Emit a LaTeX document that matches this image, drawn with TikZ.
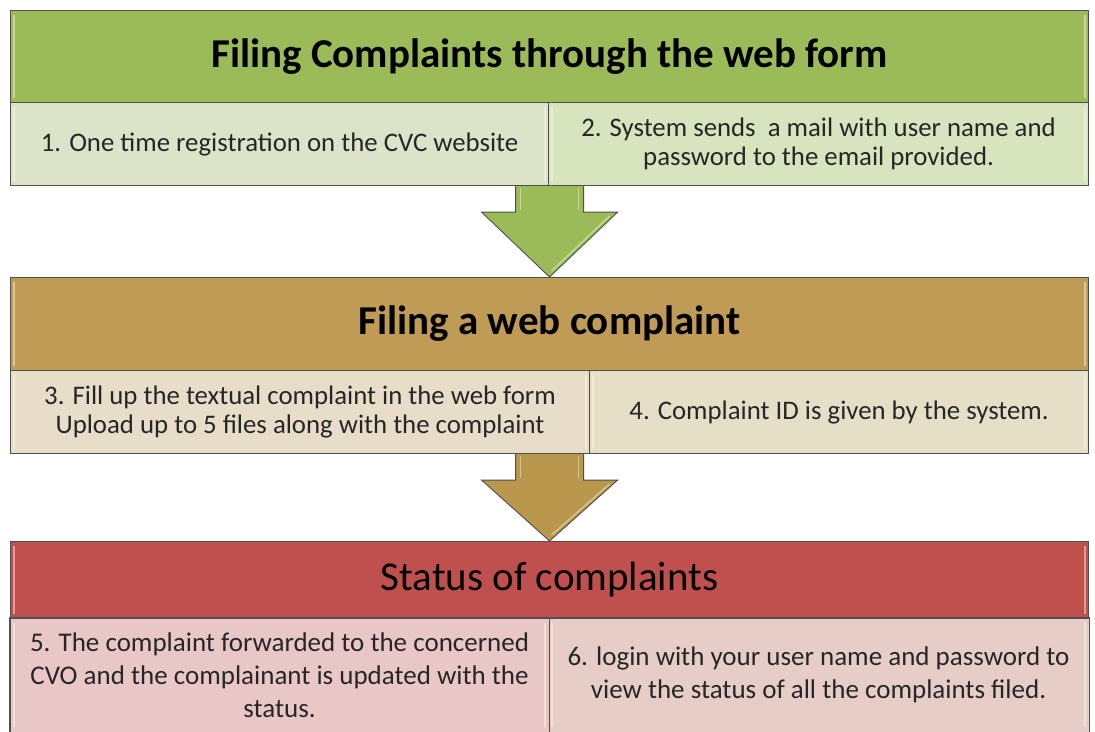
\documentclass[tikz,border=0pt]{standalone}
\usepackage{fontspec}
\setmainfont{Carlito}
\usetikzlibrary{calc}
\definecolor{bordergray}{HTML}{4F4F4F}
\definecolor{textdark}{HTML}{262626}
\definecolor{hgreen}{HTML}{9BBB59}
\definecolor{cgreenA}{HTML}{DDE3C8}
\definecolor{cgreenB}{HTML}{D8E4BE}
\definecolor{hgold}{HTML}{BF9B55}
\definecolor{cgoldA}{HTML}{E7DDC9}
\definecolor{cgoldB}{HTML}{E6DFC7}
\definecolor{agold}{HTML}{B9974C}
\definecolor{hred}{HTML}{C0504D}
\definecolor{credA}{HTML}{E9C7C6}
\definecolor{credB}{HTML}{E7CDC7}
\definecolor{hilite}{HTML}{FFFFE0}
\begin{document}
\begin{tikzpicture}[x=1pt,y=-1pt,
  box/.style={draw=bordergray, line width=1.1pt, inner sep=0pt, anchor=north west, align=center},
  hdr/.style={box, text=black, font=\fontsize{41}{49}\selectfont\bfseries},
  hdrreg/.style={box, text=black, font=\fontsize{41}{49}\selectfont},
  cell/.style={box, text=textdark, font=\fontsize{26.8}{29}\selectfont},
  cellbig/.style={box, draw=none, text=textdark, font=\fontsize{27}{33}\selectfont},
  arrowshape/.style={draw=bordergray, line width=0.9pt, line join=miter},
  shine/.style={hilite, opacity=0.45, line width=1.5pt}
]
\useasboundingbox (0,0) rectangle (1095,731);
\fill[white] (0,0) rectangle (1095,731);

% block 1
\node[hdr, fill=hgreen, minimum width=1078pt, minimum height=92pt] (h1) at (10,10) {Filing Complaints through the web form};
\node[cell, fill=cgreenA, minimum width=538pt, minimum height=83pt] (c1) at (10,102) {1. One time registration on the CVC website};
\node[cell, fill=cgreenB, minimum width=540pt, minimum height=83pt] (c2) at (548,102) {2. System sends\ \ a mail with user name and\\password to the email provided.};

% block 2
\node[hdr, fill=hgold, minimum width=1078pt, minimum height=93pt] (h2) at (10,277) {Filing a web complaint};
\node[cell, fill=cgoldA, minimum width=579pt, minimum height=83pt] (c3) at (10,370) {3. Fill up the textual complaint in the web form\\Upload up to 5 files along with the complaint};
\node[cell, fill=cgoldB, minimum width=499pt, minimum height=83pt] (c4) at (589,370) {4. Complaint ID is given by the system.};

% block 3
\node[hdrreg, fill=hred, minimum width=1078pt, minimum height=77pt] (h3) at (10,541) {Status of complaints};
\node[cellbig, fill=credA, minimum width=538pt, minimum height=113pt] (c5) at (10,618) {5. The complaint forwarded to the concerned\\CVO and the complainant is updated with the\\status.};
\node[cellbig, fill=credB, minimum width=540pt, minimum height=113pt] (c6) at (548,618) {6. login with your user name and password to\\view the status of all the complaints filed.};
\draw[draw=bordergray, line width=1.1pt] ($(c5.south west)+(0,5)$) -- (c5.north west) -- (c6.north east) -- ($(c6.south east)+(0,5)$);
\draw[draw=bordergray, line width=1.1pt] (c5.north east) -- ($(c5.south east)+(0,5)$);

% bevel highlights
\foreach \n in {h1,h2,h3,c1,c2,c3,c4,c5,c6}{
  \draw[shine] ($(\n.north west)+(4,5)$) -- ($(\n.south west)+(4,-5)$);
  \draw[shine] ($(\n.north east)+(-4,5)$) -- ($(\n.south east)+(-4,-5)$);
}

% arrow 1
\coordinate (a1s) at (h1.center |- c1.south);
\coordinate (a1e) at (h2.north);
\filldraw[arrowshape, fill=hgreen] ($(a1s)+(-34,0)$) -- ($(a1s)+(-34,26)$) -- ($(a1s)+(-68,26)$) -- (a1e) -- ($(a1s)+(68,26)$) -- ($(a1s)+(34,26)$) -- ($(a1s)+(34,0)$);
\draw[shine] ($(a1s)+(-29,2)$) -- ($(a1s)+(-29,24)$);
\draw[shine] ($(a1s)+(29,2)$) -- ($(a1s)+(29,24)$);
\draw[shine] ($(a1s)+(60,30)$) -- ($(a1e)+(2,-6)$);

% arrow 2
\coordinate (a2s) at (h2.center |- c3.south);
\coordinate (a2e) at (h3.north);
\filldraw[arrowshape, fill=agold] ($(a2s)+(-34,0)$) -- ($(a2s)+(-34,26)$) -- ($(a2s)+(-68,26)$) -- (a2e) -- ($(a2s)+(68,26)$) -- ($(a2s)+(34,26)$) -- ($(a2s)+(34,0)$);
\draw[shine] ($(a2s)+(-29,2)$) -- ($(a2s)+(-29,24)$);
\draw[shine] ($(a2s)+(29,2)$) -- ($(a2s)+(29,24)$);
\draw[shine] ($(a2s)+(60,30)$) -- ($(a2e)+(2,-6)$);
\end{tikzpicture}
\end{document}
